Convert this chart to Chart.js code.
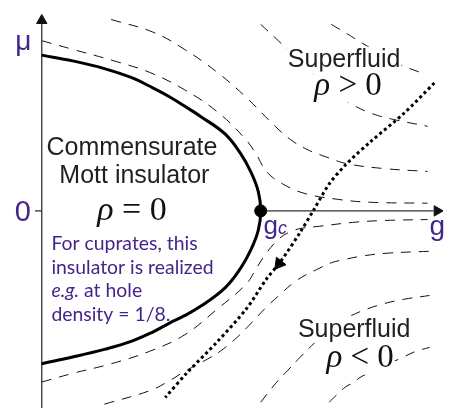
<!DOCTYPE html>
<html>
<head>
<meta charset="utf-8">
<script src="https://cdn.jsdelivr.net/npm/chart.js@4.4.0/dist/chart.umd.min.js"></script>
<style>
  html, body { margin: 0; padding: 0; background: #fff; }
  #wrap { width: 451px; height: 416px; position: relative; }
</style>
</head>
<body>
<div id="wrap"><canvas id="phaseChart"></canvas></div>
<script>
// g = coupling (g_c = 1), mu = chemical potential
// phase boundary of the commensurate Mott insulator
const boundaryG  = [0, 0.141, 0.286, 0.405, 0.507, 0.581, 0.652, 0.727, 0.837, 0.907, 0.956, 0.989, 1.000, 0.989, 0.956, 0.907, 0.837, 0.727, 0.652, 0.581, 0.507, 0.405, 0.286, 0.141, 0];
const boundaryMu = [1.62, 1.56, 1.48, 1.39, 1.28, 1.19, 1.09, 0.98, 0.80, 0.60, 0.40, 0.20, 0, -0.20, -0.40, -0.60, -0.80, -0.99, -1.09, -1.17, -1.26, -1.36, -1.44, -1.52, -1.59];

// dashed contours, rho > 0 side
const upper1G  = [0, 0.141, 0.330, 0.493, 0.652, 0.802, 0.925, 0.982, 1.026, 1.101, 1.203, 1.352, 1.498, 1.762];
const upper1Mu = [1.77, 1.68, 1.56, 1.44, 1.26, 1.03, 0.76, 0.58, 0.41, 0.28, 0.18, 0.12, 0.09, 0.08];
const upper2G  = [0.317, 0.507, 0.652, 0.802, 0.934, 1.066, 1.137, 1.211, 1.300, 1.396, 1.564, 1.762];
const upper2Mu = [1.99, 1.86, 1.68, 1.44, 1.18, 0.88, 0.74, 0.64, 0.56, 0.49, 0.44, 0.41];
const upper3G  = [1.000, 1.066, 1.132, 1.233, 1.335, 1.423, 1.511, 1.608, 1.762];
const upper3Mu = [1.94, 1.80, 1.66, 1.44, 1.23, 1.10, 1.01, 0.95, 0.88];
const upper4G  = [1.322, 1.396, 1.467, 1.630, 1.740];
const upper4Mu = [1.94, 1.84, 1.74, 1.53, 1.43];

// dashed contours, rho < 0 side
const lower1G  = [0, 0.141, 0.317, 0.493, 0.652, 0.802, 0.934, 0.982, 1.026, 1.079, 1.132, 1.189, 1.269, 1.419, 1.564, 1.762];
const lower1Mu = [-1.78, -1.69, -1.59, -1.46, -1.29, -1.02, -0.76, -0.59, -0.44, -0.30, -0.22, -0.18, -0.16, -0.12, -0.10, -0.09];
const lower2G  = [0.286, 0.493, 0.581, 0.652, 0.758, 0.815, 0.890, 0.947, 1.022, 1.093, 1.154, 1.211, 1.256, 1.322, 1.374, 1.463, 1.577, 1.771];
const lower2Mu = [-2.01, -1.87, -1.77, -1.67, -1.54, -1.46, -1.32, -1.19, -1.01, -0.86, -0.74, -0.66, -0.61, -0.54, -0.51, -0.47, -0.44, -0.42];
const lower3G  = [1.000, 1.066, 1.123, 1.181, 1.247, 1.313, 1.388, 1.463, 1.555, 1.652, 1.771];
const lower3Mu = [-1.99, -1.80, -1.66, -1.52, -1.37, -1.23, -1.12, -1.04, -0.97, -0.92, -0.88];
const lower4G  = [1.313, 1.344, 1.388, 1.419, 1.463, 1.564, 1.652, 1.709, 1.771];
const lower4Mu = [-1.99, -1.92, -1.83, -1.79, -1.72, -1.61, -1.52, -1.46, -1.42];

// dotted trajectory (doping path)
const pathG  = [1.793, 1.652, 1.507, 1.388, 1.313, 1.242, 1.181, 1.093, 1.026, 0.934, 0.802, 0.661, 0.564];
const pathMu = [1.33, 1.01, 0.73, 0.48, 0.28, 0.01, -0.22, -0.52, -0.71, -1.02, -1.36, -1.69, -1.94];

// labels
const phaseNames = ['Commensurate', 'Mott insulator'];
const fluidName = 'Superfluid';
const noteLines = ['For cuprates, this', 'insulator is realized', 'e.g.', ' at hole', 'density = 1/8.'];

const PURPLE = '#43258b';
const INK = '#231f20';
const SANS = '"Liberation Sans", Arial, sans-serif';
const SERIF = '"Liberation Serif", "DejaVu Serif", serif';
const NOTE = 'Lato, "Open Sans", sans-serif';

function pts(xs, ys) {
  return xs.map((v, i) => ({ x: v, y: ys[i] }));
}

function curve(xs, ys, extra) {
  return Object.assign({
    data: pts(xs, ys),
    showLine: true,
    pointRadius: 0,
    borderColor: '#111',
    borderWidth: 1,
    borderDash: [10, 8],
    tension: 0.4,
    fill: false
  }, extra || {});
}

function drawPieces(ctx, pieces, px, py, align, mask) {
  let total = 0;
  let asc = 0, desc = 0;
  pieces.forEach(p => {
    ctx.font = p.font;
    const m = ctx.measureText(p.text);
    p.w = m.width;
    asc = Math.max(asc, m.actualBoundingBoxAscent);
    desc = Math.max(desc, m.actualBoundingBoxDescent);
    total += p.w;
  });
  let cx = align === 'center' ? px - total / 2 : px;
  if (mask) {
    ctx.fillStyle = '#fff';
    ctx.fillRect(cx - 1, py - asc - 1, total + 2, asc + desc + 2);
  }
  pieces.forEach(p => {
    ctx.font = p.font;
    ctx.fillStyle = p.color;
    ctx.fillText(p.text, cx, py);
    cx += p.w;
  });
}

const labelPlugin = {
  id: 'phaseLabels',
  afterDatasetsDraw(chart) {
    const { ctx, scales } = chart;
    const X = v => scales.x.getPixelForValue(v);
    const Y = v => scales.y.getPixelForValue(v);
    ctx.save();
    ctx.textBaseline = 'alphabetic';

    // axis labels
    drawPieces(ctx, [{ text: 'μ', font: '28px ' + SANS, color: PURPLE }], X(-0.084), Y(1.67), 'center');
    drawPieces(ctx, [{ text: '0', font: '29px ' + SANS, color: PURPLE }], X(-0.086), Y(-0.11), 'center');
    drawPieces(ctx, [{ text: 'g', font: '28px ' + SANS, color: PURPLE }], X(1.771), Y(-0.25), 'left');
    drawPieces(ctx, [
      { text: 'g', font: '26px ' + SANS, color: PURPLE },
      { text: 'c', font: 'italic 18px ' + SANS, color: PURPLE }
    ], X(1.013), Y(-0.24), 'left');

    // insulator
    drawPieces(ctx, [{ text: phaseNames[0], font: '25px ' + SANS, color: INK }], X(0.412), Y(0.58), 'center');
    drawPieces(ctx, [{ text: phaseNames[1], font: '25px ' + SANS, color: INK }], X(0.423), Y(0.29), 'center');
    drawPieces(ctx, [
      { text: 'ρ', font: 'italic 34px ' + SERIF, color: '#111' },
      { text: ' = 0', font: '34px ' + SERIF, color: '#111' }
    ], X(0.412), Y(-0.09), 'center');

    // superfluids
    drawPieces(ctx, [{ text: fluidName, font: '25px ' + SANS, color: INK }], X(1.381), Y(1.50), 'center', true);
    drawPieces(ctx, [
      { text: 'ρ', font: 'italic 33px ' + SERIF, color: '#111' },
      { text: ' > 0', font: '33px ' + SERIF, color: '#111' }
    ], X(1.399), Y(1.21), 'center', true);
    drawPieces(ctx, [{ text: fluidName, font: '25px ' + SANS, color: INK }], X(1.427), Y(-1.31), 'center', true);
    drawPieces(ctx, [
      { text: 'ρ', font: 'italic 33px ' + SERIF, color: '#111' },
      { text: ' < 0', font: '33px ' + SERIF, color: '#111' }
    ], X(1.454), Y(-1.62), 'center', true);

    // purple note, size fitted to the widest line
    ctx.font = '100px ' + NOTE;
    const ns = Math.round(100 * 162 / ctx.measureText(noteLines[1]).width * 10) / 10;
    const nf = ns + 'px ' + NOTE;
    drawPieces(ctx, [{ text: noteLines[0], font: nf, color: PURPLE }], X(0.044), Y(-0.41), 'left');
    drawPieces(ctx, [{ text: noteLines[1], font: nf, color: PURPLE }], X(0.044), Y(-0.66), 'left');
    drawPieces(ctx, [
      { text: noteLines[2], font: 'italic ' + nf, color: PURPLE },
      { text: noteLines[3], font: nf, color: PURPLE }
    ], X(0.044), Y(-0.90), 'left');
    drawPieces(ctx, [{ text: noteLines[4], font: nf, color: PURPLE }], X(0.044), Y(-1.14), 'left');

    ctx.restore();
  }
};

const datasets = [
  // critical point
  { data: [{ x: 1, y: 0 }], pointRadius: 6, pointBackgroundColor: '#000', pointBorderColor: '#000', showLine: false },
  // arrow heads
  { data: [{ x: 0, y: 1.98 }], pointStyle: 'triangle', pointRadius: 6, rotation: 0, pointBackgroundColor: '#111', pointBorderColor: '#111', pointBorderWidth: 1, showLine: false },
  { data: [{ x: 1.806, y: 0 }], pointStyle: 'triangle', pointRadius: 6, rotation: 90, pointBackgroundColor: '#111', pointBorderColor: '#111', pointBorderWidth: 1, showLine: false },
  { data: [{ x: 1.084, y: -0.55 }], pointStyle: 'triangle', pointRadius: 7, rotation: 218, pointBackgroundColor: '#000', pointBorderColor: '#000', pointBorderWidth: 1, showLine: false },
  // solid boundary
  curve(boundaryG, boundaryMu, { borderColor: '#000', borderWidth: 3, borderDash: [] }),
  // dotted path
  curve(pathG, pathMu, { borderColor: '#000', borderWidth: 3, borderDash: [3, 3], tension: 0.3 }),
  // axes
  curve([0, 0], [-2.05, 1.95], { borderColor: '#333', borderWidth: 1.3, borderDash: [], tension: 0 }),
  curve([1, 1.79], [0, 0], { borderColor: '#333', borderWidth: 1.3, borderDash: [], tension: 0 }),
  curve([-0.031, 0], [0, 0], { borderColor: '#333', borderWidth: 1.3, borderDash: [], tension: 0 }),
  // dashed contours
  curve(upper1G, upper1Mu),
  curve(upper2G, upper2Mu),
  curve(upper3G, upper3Mu),
  curve(upper4G, upper4Mu),
  curve(lower1G, lower1Mu),
  curve(lower2G, lower2Mu),
  curve(lower3G, lower3Mu),
  curve(lower4G, lower4Mu)
];

new Chart(document.getElementById('phaseChart'), {
  type: 'scatter',
  data: { datasets: datasets },
  options: {
    responsive: true,
    maintainAspectRatio: false,
    animation: false,
    events: [],
    layout: { padding: 0 },
    plugins: { legend: { display: false }, tooltip: { enabled: false } },
    scales: {
      x: { type: 'linear', min: -0.1542, max: 1.8326, display: false },
      y: { type: 'linear', min: -2.05, max: 2.11, display: false }
    }
  },
  plugins: [labelPlugin]
});
</script>
</body>
</html>
